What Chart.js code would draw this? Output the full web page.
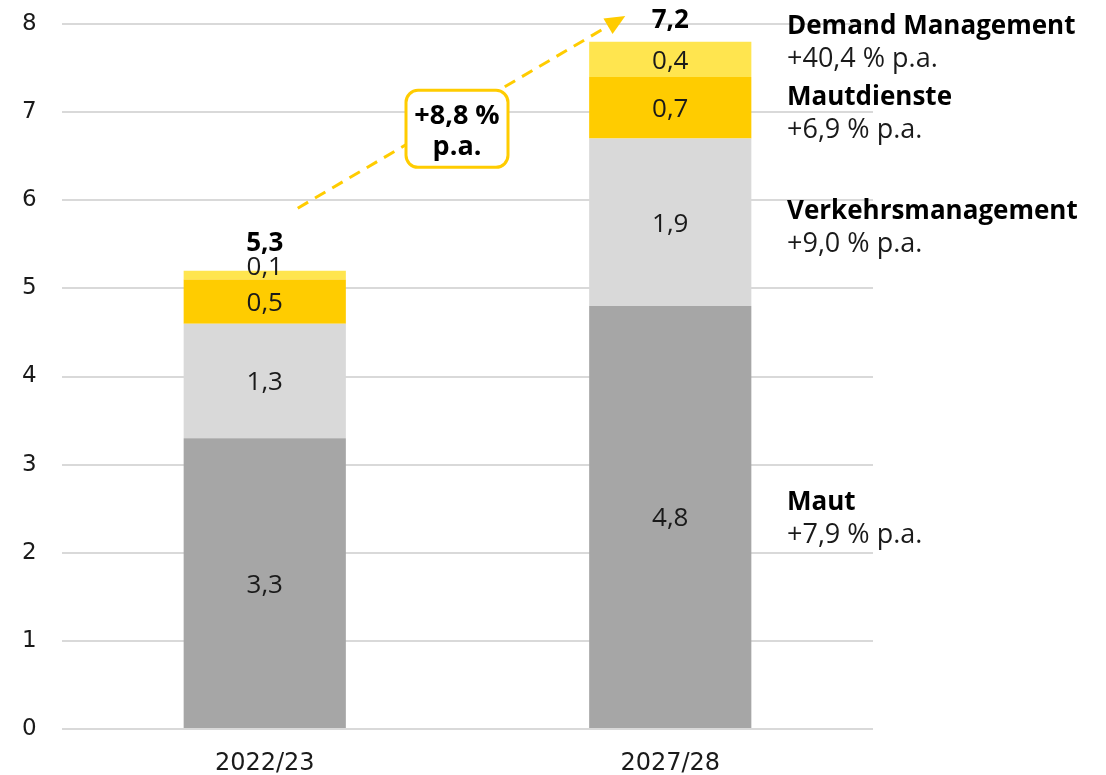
<!DOCTYPE html>
<html>
<head>
<meta charset="utf-8">
<script src="https://cdn.jsdelivr.net/npm/chart.js@4.4.1/dist/chart.umd.min.js"></script>
<style>
  html, body { margin: 0; padding: 0; background: #ffffff; }
  #wrap { width: 1106px; height: 775px; position: relative; }
</style>
</head>
<body>
<div id="wrap"><canvas id="c" width="1106" height="775"></canvas></div>
<script>
// ---- data ----
const categories = ['2022/23', '2027/28'];
const seriesNames = ['Maut', 'Verkehrsmanagement', 'Mautdienste', 'Demand Management'];
const maut = [3.3, 4.8];
const verkehrsmanagement = [1.3, 1.9];
const mautdienste = [0.5, 0.7];
const demandManagement = [0.1, 0.4];
const totalLabels = ['5,3', '7,2'];
const growthLabels = ['+7,9 % p.a.', '+9,0 % p.a.', '+6,9 % p.a.', '+40,4 % p.a.'];
const cagrLabel = ['+8,8 %', 'p.a.'];
const yTicks = [0, 1, 2, 3, 4, 5, 6, 7, 8];

const colors = ['#A6A6A6', '#D9D9D9', '#FFCC00', '#FFE54F'];
const seriesData = [maut, verkehrsmanagement, mautdienste, demandManagement];

const TXT = '"Open Sans", "Noto Sans", sans-serif';
const AXF = '"DejaVu Sans", sans-serif';

const fmt = v => v.toFixed(1).replace('.', ',');

const overlay = {
  id: 'overlay',
  afterDatasetsDraw(chart) {
    const ctx = chart.ctx;
    const ys = chart.scales.y;
    ctx.save();
    // segment labels
    chart.data.datasets.forEach((ds, di) => {
      const meta = chart.getDatasetMeta(di);
      meta.data.forEach((el, i) => {
        const top = Math.min(el.y, el.base), bot = Math.max(el.y, el.base);
        let cy = (top + bot) / 2 + 2;
        if (bot - top < 15) cy -= 10;
        ctx.font = '26px ' + TXT;
        ctx.fillStyle = '#1a1a1a';
        ctx.textAlign = 'center';
        ctx.textBaseline = 'middle';
        ctx.fillText(fmt(ds.data[i]), el.x, cy);
      });
    });
    // totals
    const lastMeta = chart.getDatasetMeta(chart.data.datasets.length - 1);
    const totalOffsets = [27, 21];
    lastMeta.data.forEach((el, i) => {
      ctx.font = 'bold 26px ' + TXT;
      ctx.fillStyle = '#000';
      ctx.textAlign = 'center';
      ctx.textBaseline = 'middle';
      ctx.fillText(totalLabels[i], el.x, el.y - totalOffsets[i]);
    });
    // CAGR arrow
    const b0 = lastMeta.data[0], b1 = lastMeta.data[1];
    const x0 = b0.x + 33, y0 = ys.getPixelForValue(5.91);
    const x1 = b1.x - 45, y1 = ys.getPixelForValue(8.09);
    const ang = Math.atan2(y1 - y0, x1 - x0);
    const headLen = 20, headW = 9;
    const lx = x1 - Math.cos(ang) * (headLen - 2), ly = y1 - Math.sin(ang) * (headLen - 2);
    ctx.strokeStyle = '#FFCC00';
    ctx.lineWidth = 3;
    ctx.setLineDash([12, 8]);
    ctx.beginPath();
    ctx.moveTo(x0, y0);
    ctx.lineTo(lx, ly);
    ctx.stroke();
    ctx.setLineDash([]);
    ctx.fillStyle = '#FFCC00';
    ctx.beginPath();
    ctx.moveTo(x1, y1);
    const bx = x1 - Math.cos(ang) * headLen, by = y1 - Math.sin(ang) * headLen;
    ctx.lineTo(bx + Math.sin(ang) * headW, by - Math.cos(ang) * headW);
    ctx.lineTo(bx - Math.sin(ang) * headW, by + Math.cos(ang) * headW);
    ctx.closePath();
    ctx.fill();
    // label box
    const cx = 457, cyb = ys.getPixelForValue(6.81);
    const w = 102, h = 77, r = 12;
    ctx.beginPath();
    ctx.roundRect(cx - w / 2, cyb - h / 2, w, h, r);
    ctx.fillStyle = '#fff';
    ctx.fill();
    ctx.lineWidth = 3;
    ctx.strokeStyle = '#FFCC00';
    ctx.stroke();
    ctx.fillStyle = '#000';
    ctx.font = 'bold 27px ' + TXT;
    ctx.textAlign = 'center';
    ctx.textBaseline = 'middle';
    ctx.fillText(cagrLabel[0], cx, cyb - 13);
    ctx.fillText(cagrLabel[1], cx, cyb + 18);
    // right-side annotations
    const anchors = [2.4, 5.7, 7.0, 7.8];
    const ax = chart.chartArea.right - 86;
    seriesNames.forEach((name, i) => {
      const yc = ys.getPixelForValue(anchors[i]);
      ctx.textAlign = 'left';
      ctx.textBaseline = 'middle';
      ctx.fillStyle = '#000';
      ctx.font = 'bold 26px ' + TXT;
      ctx.fillText(name, ax, yc - 15);
      ctx.fillStyle = '#1a1a1a';
      ctx.font = '27px ' + TXT;
      ctx.fillText(growthLabels[i], ax, yc + 18);
    });
    ctx.restore();
  }
};

new Chart(document.getElementById('c'), {
  type: 'bar',
  data: {
    labels: categories,
    datasets: seriesNames.map((n, i) => ({
      label: n,
      data: seriesData[i],
      backgroundColor: colors[i],
      borderWidth: 0,
      barPercentage: 0.4,
      categoryPercentage: 1.0
    }))
  },
  options: {
    responsive: false,
    devicePixelRatio: 1,
    animation: false,
    layout: { padding: { left: 22, right: 233, top: 24, bottom: 0 } },
    plugins: { legend: { display: false }, tooltip: { enabled: false } },
    scales: {
      x: {
        stacked: true,
        grid: { display: false, drawTicks: false },
        border: { display: false },
        ticks: { color: '#1a1a1a', font: { family: AXF, size: 24 }, padding: 20 },
        afterFit(s) { s.height = 46; }
      },
      y: {
        stacked: true,
        min: 0, max: 8,
        afterBuildTicks(s) { s.ticks = yTicks.map(v => ({ value: v })); },
        grid: { color: '#D9D9D9', lineWidth: 2, drawTicks: false },
        border: { display: false },
        ticks: { color: '#1a1a1a', font: { family: AXF, size: 23 }, padding: 0, crossAlign: 'far' },
        afterFit(s) { s.width = 40; }
      }
    }
  },
  plugins: [overlay]
});
</script>
</body>
</html>
